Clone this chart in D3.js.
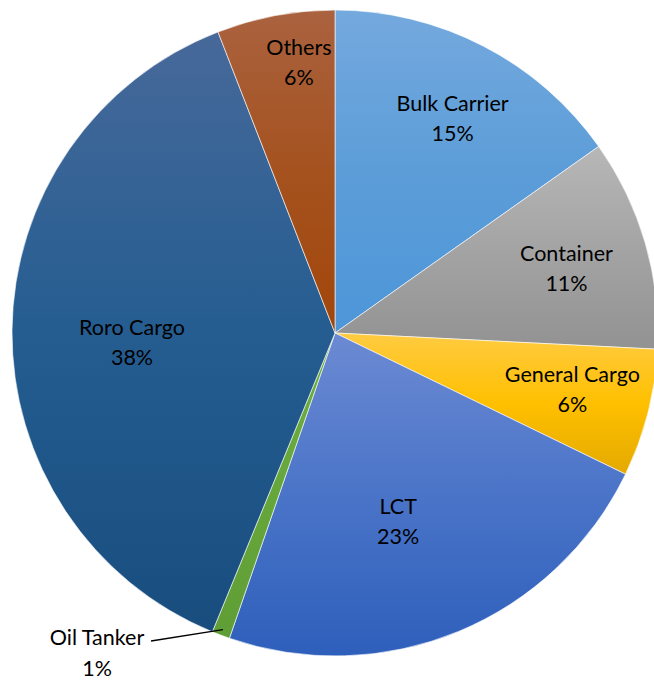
<!DOCTYPE html>
<html><head><meta charset="utf-8">
<script src="https://cdn.jsdelivr.net/npm/d3@7"></script>
<style>html,body{margin:0;padding:0;background:#fff;overflow:hidden}</style>
</head><body>
<svg id="chart" width="654" height="680"></svg>
<script>
const categories = ["Bulk Carrier","Container","General Cargo","LCT","Oil Tanker","Roro Cargo","Others"];
const values = [15.2, 10.6, 6.4, 23.1, 0.9, 37.9, 5.9];
const topColors = ["#74a9de","#b7b7b7","#ffcb42","#6c8ad3","#6aae40","#47699a","#aa623f"];
const midColors = ["#5c9dd8","#a4a4a4","#ffc000","#4a74c8","#66a73b","#255d91","#a5521f"];
const bottomColors = ["#4d96d9","#929292","#e4a900","#2e5fbb","#5f9e36","#184d7e","#a2460a"];
// label layout (radius from centre, pixel nudge)
const labelRadius = [245, 240, 244, 199, 0, 203, 272];
const labelNudge = [[5,3],[1,2],[1,-4],[-13,5],[0,0],[0,11],[14,-3]];

const svg = d3.select("#chart");
const cx = 335, cy = 333, R = 323;
const total = d3.sum(values);
const pie = d3.pie().sort(null).value(d => d)(values);
const arc = d3.arc().innerRadius(0).outerRadius(R);

const defs = svg.append("defs");
categories.forEach((c, i) => {
  const g = defs.append("linearGradient").attr("id", "g" + i)
    .attr("x1", 0).attr("y1", 0).attr("x2", 0).attr("y2", 1);
  g.append("stop").attr("offset", "0%").attr("stop-color", topColors[i]);
  g.append("stop").attr("offset", "50%").attr("stop-color", midColors[i]);
  g.append("stop").attr("offset", "100%").attr("stop-color", bottomColors[i]);
});

const g = svg.append("g").attr("transform", `translate(${cx},${cy})`);
g.selectAll("path").data(pie).enter().append("path")
  .attr("d", arc)
  .attr("fill", (d, i) => `url(#g${i})`)
  .attr("stroke", "#ffffff").attr("stroke-width", 0.6);

const fmt = v => Math.round(v / total * 100) + "%";
const font = "Lato, 'Open Sans', sans-serif";
const fs = 21.5;

pie.forEach((d, i) => {
  if (categories[i] === "Oil Tanker") return;
  const a = (d.startAngle + d.endAngle) / 2;
  const x = Math.sin(a) * labelRadius[i] + labelNudge[i][0];
  const y = -Math.cos(a) * labelRadius[i] + labelNudge[i][1];
  const t = g.append("text").attr("text-anchor", "middle")
    .attr("font-family", font).attr("font-size", fs).attr("fill", "#000");
  t.append("tspan").attr("x", x).attr("y", y - 7.5).text(categories[i]);
  t.append("tspan").attr("x", x).attr("y", y + 22.5).text(fmt(values[i]));
});

// Oil Tanker outside label with leader line
{
  const i = categories.indexOf("Oil Tanker");
  const d = pie[i];
  const a = (d.startAngle + d.endAngle) / 2;
  const px = Math.sin(a) * (R - 6), py = -Math.cos(a) * (R - 6);
  const lx = 151 - cx, ly = 641 - cy;
  g.append("path").attr("d", `M${lx},${ly}L${px},${py}`)
    .attr("stroke", "#000").attr("stroke-width", 1.3).attr("fill", "none");
  const t = g.append("text").attr("text-anchor", "middle")
    .attr("font-family", font).attr("font-size", fs).attr("fill", "#000");
  t.append("tspan").attr("x", 97 - cx).attr("y", 644.5 - cy).text(categories[i]);
  t.append("tspan").attr("x", 97 - cx).attr("y", 675.5 - cy).text(fmt(values[i]));
}
</script>
</body></html>
